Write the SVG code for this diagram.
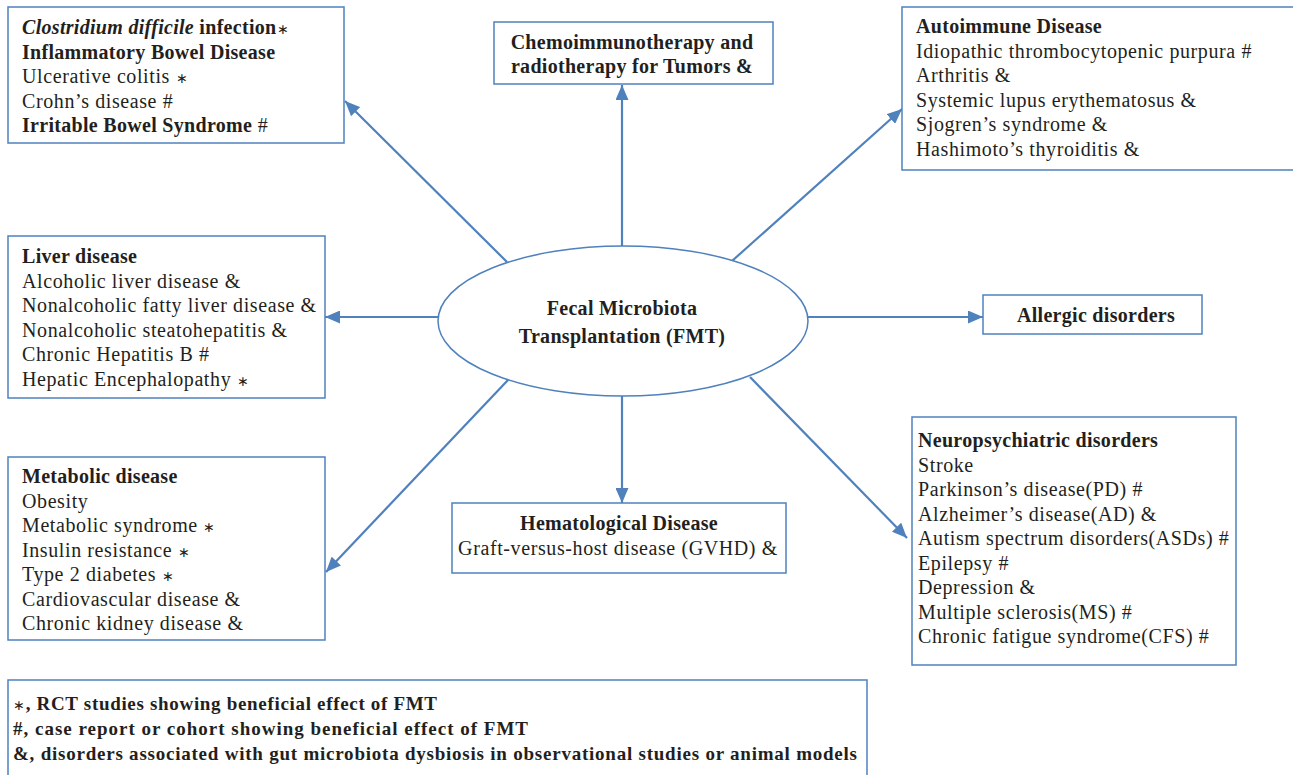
<svg xmlns="http://www.w3.org/2000/svg" width="1293" height="775" viewBox="0 0 1293 775">
<defs>
<style>
.box{fill:#fff;stroke:#4f81bd;stroke-width:1.5}
.t{font-family:"Liberation Serif","Times New Roman",serif;font-size:20px;fill:#231f20;letter-spacing:0.6px}
.b{font-weight:bold;letter-spacing:0.3px}
.i{font-style:italic}
.c{text-anchor:middle}
.s{font-size:14px;font-weight:normal}
.lg{font-family:"Liberation Serif","Times New Roman",serif;font-size:19px;font-weight:bold;fill:#231f20}
.arr{stroke:#4f81bd;stroke-width:2.2;fill:none;marker-end:url(#ah)}
</style>
<marker id="ah" markerUnits="userSpaceOnUse" markerWidth="15" markerHeight="13" refX="15" refY="6.5" orient="auto">
<path d="M0,0 L15,6.5 L0,13 z" fill="#4f81bd"/>
</marker>
</defs>
<rect width="1293" height="775" fill="#fff"/>

<g id="connectors">
<line class="arr" x1="507" y1="262" x2="345" y2="101"/>
<line class="arr" x1="622" y1="246" x2="622" y2="85"/>
<line class="arr" x1="732" y1="261" x2="902" y2="109"/>
<line class="arr" x1="438" y1="317" x2="325" y2="317"/>
<line class="arr" x1="807" y1="317" x2="983" y2="317"/>
<line class="arr" x1="508" y1="380" x2="326" y2="572"/>
<line class="arr" x1="622" y1="396" x2="622" y2="503"/>
<line class="arr" x1="750" y1="377" x2="907" y2="538"/>
</g>

<g id="fmt">
<ellipse cx="623" cy="321" rx="185" ry="75" fill="#fff" stroke="#4f81bd" stroke-width="1.5"/>
<text class="t b c" x="622" y="315">Fecal Microbiota</text>
<text class="t b c" x="622" y="343">Transplantation (FMT)</text>
</g>

<g id="gi">
<rect class="box" x="8" y="7" width="336" height="136"/>
<text class="t" x="22" y="33.5"><tspan class="b i">Clostridium difficile</tspan><tspan class="b"> infection</tspan><tspan class="s">∗</tspan></text>
<text class="t b" x="22" y="58.5">Inflammatory Bowel Disease</text>
<text class="t" x="22" y="83">Ulcerative colitis <tspan class="s">∗</tspan></text>
<text class="t" x="22" y="107.5">Crohn’s disease #</text>
<text class="t" x="22" y="132"><tspan class="b">Irritable Bowel Syndrome</tspan> #</text>
</g>

<g id="tumors">
<rect class="box" x="494" y="22" width="279" height="62"/>
<text class="t b c" x="632" y="49">Chemoimmunotherapy and</text>
<text class="t b c" x="632" y="73">radiotherapy for Tumors &amp;</text>
</g>

<g id="autoimmune">
<rect class="box" x="902" y="7" width="400" height="163"/>
<text class="t b" x="916" y="33">Autoimmune Disease</text>
<text class="t" x="916" y="57.5">Idiopathic thrombocytopenic purpura #</text>
<text class="t" x="916" y="82">Arthritis &amp;</text>
<text class="t" x="916" y="106.5">Systemic lupus erythematosus &amp;</text>
<text class="t" x="916" y="131">Sjogren’s syndrome &amp;</text>
<text class="t" x="916" y="155.5">Hashimoto’s thyroiditis &amp;</text>
</g>

<g id="liver">
<rect class="box" x="8" y="236" width="317" height="162"/>
<text class="t b" x="22" y="263">Liver disease</text>
<text class="t" x="22" y="287.5">Alcoholic liver disease &amp;</text>
<text class="t" x="22" y="312">Nonalcoholic fatty liver disease &amp;</text>
<text class="t" x="22" y="336.5">Nonalcoholic steatohepatitis &amp;</text>
<text class="t" x="22" y="361">Chronic Hepatitis B #</text>
<text class="t" x="22" y="385.5">Hepatic Encephalopathy <tspan class="s">∗</tspan></text>
</g>

<g id="allergic">
<rect class="box" x="983" y="295" width="219" height="39"/>
<text class="t b c" x="1096" y="322">Allergic disorders</text>
</g>

<g id="metabolic">
<rect class="box" x="8" y="457" width="317" height="183"/>
<text class="t b" x="22" y="483">Metabolic disease</text>
<text class="t" x="22" y="507.5">Obesity</text>
<text class="t" x="22" y="532">Metabolic syndrome <tspan class="s">∗</tspan></text>
<text class="t" x="22" y="556.5">Insulin resistance <tspan class="s">∗</tspan></text>
<text class="t" x="22" y="581">Type 2 diabetes <tspan class="s">∗</tspan></text>
<text class="t" x="22" y="605.5">Cardiovascular disease &amp;</text>
<text class="t" x="22" y="630">Chronic kidney disease &amp;</text>
</g>

<g id="hematological">
<rect class="box" x="452" y="503" width="334" height="70"/>
<text class="t b c" x="619" y="530">Hematological Disease</text>
<text class="t c" x="618" y="555">Graft-versus-host disease (GVHD) &amp;</text>
</g>

<g id="neuro">
<rect class="box" x="912" y="417" width="324" height="248"/>
<text class="t b" x="918" y="447">Neuropsychiatric disorders</text>
<text class="t" x="918" y="471.5">Stroke</text>
<text class="t" x="918" y="496">Parkinson’s disease(PD) #</text>
<text class="t" x="918" y="520.5">Alzheimer’s disease(AD) &amp;</text>
<text class="t" x="918" y="545">Autism spectrum disorders(ASDs) #</text>
<text class="t" x="918" y="569.5">Epilepsy #</text>
<text class="t" x="918" y="594">Depression &amp;</text>
<text class="t" x="918" y="618.5">Multiple sclerosis(MS) #</text>
<text class="t" x="918" y="643">Chronic fatigue syndrome(CFS) #</text>
</g>

<g id="legend">
<rect class="box" x="8" y="680" width="859" height="110"/>
<text class="lg" x="13" y="710" textLength="424"><tspan class="s">∗</tspan>, RCT studies showing beneficial effect of FMT</text>
<text class="lg" x="13" y="735" textLength="515">#, case report or cohort showing beneficial effect of FMT</text>
<text class="lg" x="13" y="760" textLength="844">&amp;, disorders associated with gut microbiota dysbiosis in observational studies or animal models</text>
</g>
</svg>
